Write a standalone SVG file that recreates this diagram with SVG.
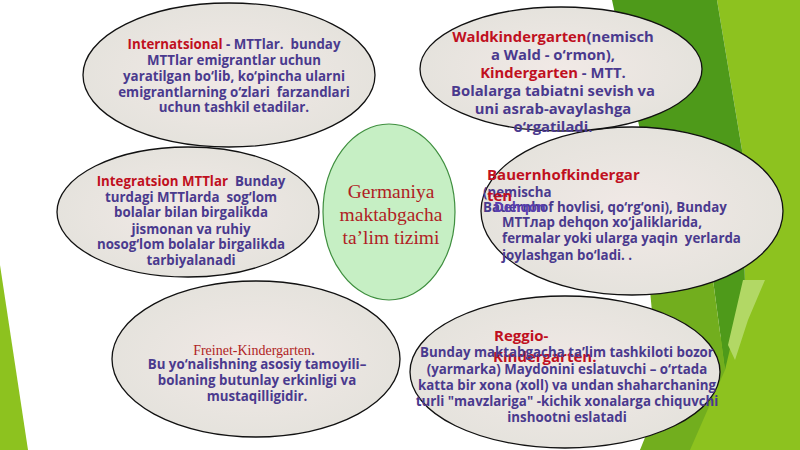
<svg xmlns="http://www.w3.org/2000/svg" width="800" height="450" viewBox="0 0 800 450">
<defs>
<radialGradient id="g" cx="50%" cy="50%" r="55%">
<stop offset="0" stop-color="#f1e9e6"/>
<stop offset="1" stop-color="#e4e2dc"/>
</radialGradient>
<style>
.e{fill:url(#g);stroke:#111;stroke-width:1.3}
.t{font-family:"Open Sans","Noto Sans","DejaVu Sans",sans-serif;font-weight:bold;font-size:13.3px;fill:#4a3a8e}
.m{text-anchor:middle}
.r{fill:#c0101e}
.h{font-size:15px}
.w{font-size:14.8px}
.s{font-family:"Liberation Serif","Times New Roman",serif;font-weight:normal;fill:#b01e24}
</style>
</defs>
<rect width="800" height="450" fill="#ffffff"/>
<g id="background">
<polygon points="0,265 28,450 0,450" fill="#8dc21f"/>
<polygon points="717,0 800,0 800,450 640,450 700,380 745,285 742,150" fill="#8dc21f"/>
<polygon points="612,0 717,0 742,150 745,285 725,370 713,280 650,290 640,130" fill="#4e9a1a"/>
<polygon points="650,290 713,280 725,370 690,450 640,450 660,400" fill="#72ae1e"/>
<polygon points="743,280 765,280 748,320 735,360 728,345" fill="#b2d865"/>
</g>
<g id="n-internatsional">
<ellipse class="e" cx="229" cy="75" rx="146" ry="72"/>
<text class="t m" x="234" y="49" xml:space="preserve"><tspan class="r">Internatsional</tspan> - MTTlar.  bunday</text>
<text class="t m" x="234" y="65">MTTlar emigrantlar uchun</text>
<text class="t m" x="234" y="81">yaratilgan bo‘lib, ko‘pincha ularni</text>
<text class="t m" x="234" y="97" xml:space="preserve">emigrantlarning o‘zlari  farzandlari</text>
<text class="t m" x="234" y="112">uchun tashkil etadilar.</text>
</g>
<g id="n-bauernhof">
<ellipse class="e" cx="632" cy="211" rx="151" ry="84"/>
<text class="t r h" x="487" y="180">Bauernhofkindergar</text>
<text class="t" x="483" y="197">(nemischa</text>
<text class="t r h" x="487" y="201">ten</text>
<text class="t" x="483" y="212">Bauernhof</text>
<text class="t" x="494" y="212" style="fill:#5a3fb0">Dehqon</text>
<text class="t" x="557" y="212">hovlisi, qo‘rg‘oni), Bunday</text>
<text class="t" x="502" y="227">MTTлар dehqon xo‘jaliklarida,</text>
<text class="t" x="502" y="243" xml:space="preserve">fermalar yoki ularga yaqin  yerlarda</text>
<text class="t" x="502" y="260">joylashgan bo‘ladi. .</text>
</g>
<g id="n-waldkindergarten">
<ellipse class="e" cx="561" cy="69" rx="141" ry="62"/>
<text class="t m w" x="553" y="42"><tspan class="r">Waldkindergarten</tspan>(nemisch</text>
<text class="t m w" x="553" y="60">a Wald - o‘rmon),</text>
<text class="t m w" x="553" y="78"><tspan class="r">Kindergarten</tspan> - MTT.</text>
<text class="t m w" x="553" y="96">Bolalarga tabiatni sevish va</text>
<text class="t m w" x="553" y="114">uni asrab-avaylashga</text>
<text class="t m w" x="553" y="132">o‘rgatiladi.</text>
</g>
<g id="n-integratsion">
<ellipse class="e" cx="188" cy="212" rx="131" ry="65"/>
<text class="t m" x="191" y="186" xml:space="preserve"><tspan class="r">Integratsion MTTlar</tspan>  Bunday</text>
<text class="t m" x="191" y="202" xml:space="preserve">turdagi MTTlarda  sog‘lom</text>
<text class="t m" x="191" y="217">bolalar bilan birgalikda</text>
<text class="t m" x="191" y="234">jismonan va ruhiy</text>
<text class="t m" x="191" y="249">nosog‘lom bolalar birgalikda</text>
<text class="t m" x="191" y="265">tarbiyalanadi</text>
</g>
<g id="n-center">
<ellipse cx="389" cy="212" rx="66" ry="88" fill="#c6efc4" stroke="#3f8f3f" stroke-width="1.2"/>
<text class="s m" x="391" y="198" style="font-size:19.5px">Germaniya</text>
<text class="s m" x="391" y="221" style="font-size:19.5px">maktabgacha</text>
<text class="s m" x="391" y="244" style="font-size:19.5px">ta’lim tizimi</text>
</g>
<g id="n-freinet">
<ellipse class="e" cx="256" cy="359" rx="144" ry="78"/>
<text class="t m" x="254" y="355"><tspan class="s" style="font-size:14px">Freinet-Kindergarten</tspan>.</text>
<text class="t m" x="257" y="369">Bu yo‘nalishning asosiy tamoyili–</text>
<text class="t m" x="257" y="385">bolaning butunlay erkinligi va</text>
<text class="t m" x="257" y="401">mustaqilligidir.</text>
</g>
<g id="n-reggio">
<ellipse class="e" cx="565" cy="372" rx="155" ry="76"/>
<text class="t r h" x="494" y="341">Reggio-</text>
<text class="t r h" x="493" y="362">Kindergarten.</text>
<text class="t m" x="567" y="357">Bunday maktabgacha ta’lim tashkiloti bozor</text>
<text class="t m" x="567" y="374">(yarmarka) Maydonini eslatuvchi – o‘rtada</text>
<text class="t m" x="567" y="390">katta bir xona (xoll) va undan shaharchaning</text>
<text class="t m" x="567" y="406">turli "mavzlariga" -kichik xonalarga chiquvchi</text>
<text class="t m" x="567" y="422">inshootni eslatadi</text>
</g>
<g id="connectors"/>
</svg>
